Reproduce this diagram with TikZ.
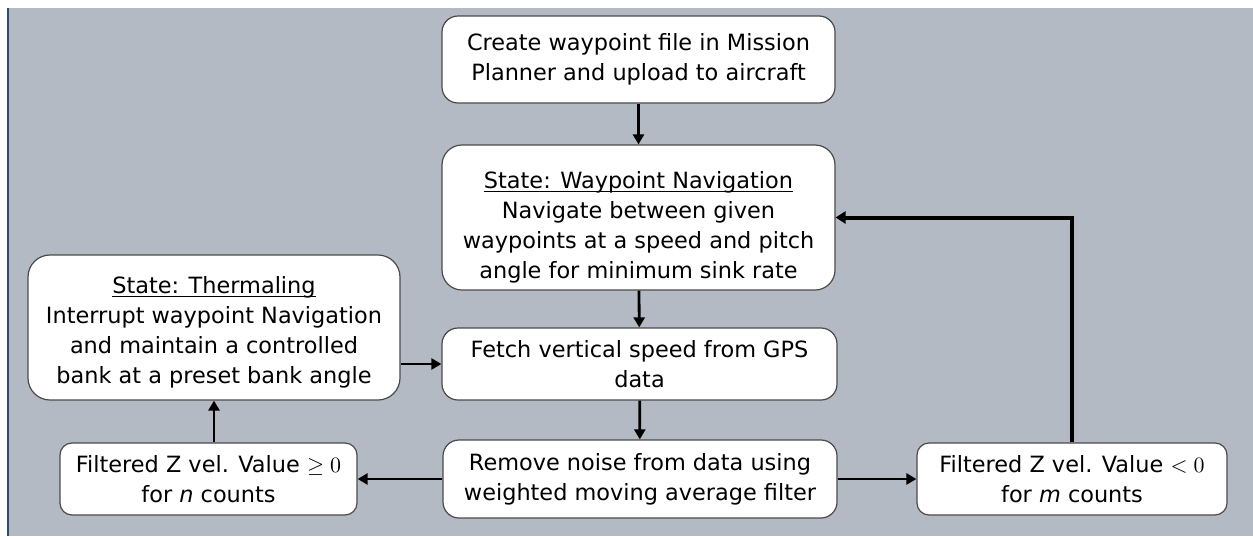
\documentclass[tikz,border=0pt]{standalone}
\usepackage{fontspec}
\setmainfont{DejaVu Sans}
\usetikzlibrary{arrows.meta}
\definecolor{panelGray}{HTML}{B3BAC4}
\definecolor{edgeBlue}{HTML}{2E4A78}
\definecolor{boxLine}{HTML}{4A4A4A}
%% Underlined state title, optional extra head room pushes the block down
\newcommand{\stateTitle}[2][0pt]{\underline{\raisebox{0pt}[\dimexpr\height+#1\relax][0pt]{#2}}}
\tikzset{
  stateBox/.style={draw=boxLine, line width=0.6pt, fill=white, rounded corners=8pt,
    align=center, inner sep=0pt, font=\fontsize{11.2}{15}\selectfont},
  flowArrow/.style={line width=1.4pt, -{Triangle[length=5pt,width=5.5pt]}},
  loopArrow/.style={line width=2pt, -{Triangle[length=5pt,width=6pt]}}
}
\begin{document}
\begin{tikzpicture}[x=0.5pt,y=-0.5pt]
  %% Canvas in pixel units
  \useasboundingbox (0,0) rectangle (1253,536);
  \fill[panelGray] (8,8) rectangle (1253,536);
  \draw[edgeBlue, line width=0.8pt] (8,8) -- (8,536);
  %% Centre column
  \node[stateBox, minimum width=196.5pt, minimum height=43.5pt] (create) at (638.5,59.5)
    {Create waypoint file in Mission\\Planner and upload to aircraft};
  \node[stateBox, minimum width=196.5pt, minimum height=72.5pt, rounded corners=10pt] (wpNav) at (638.5,217.5)
    {\stateTitle[10pt]{State: Waypoint Navigation}\\Navigate between given\\waypoints at a speed and pitch\\angle for minimum sink rate};
  \node[stateBox, minimum width=197.5pt, minimum height=36pt] (fetch) at (639.5,364)
    {Fetch vertical speed from GPS\\data};
  \node[stateBox, minimum width=197pt, minimum height=39pt] (remove) at (640,479)
    {Remove noise from data using\\weighted moving average filter};
  %% Side blocks
  \node[stateBox, minimum width=186pt, minimum height=72.5pt, rounded corners=11pt] (thermal) at (214,327.5)
    {\stateTitle[5pt]{State: Thermaling}\\Interrupt waypoint Navigation\\and maintain a controlled\\bank at a preset bank angle};
  \node[stateBox, minimum width=148.5pt, minimum height=36pt, rounded corners=6pt] (climbing) at (208.5,479)
    {Filtered Z vel. Value $\geq 0$\\for \textit{n} counts};
  \node[stateBox, minimum width=155pt, minimum height=36pt, rounded corners=6pt] (sinking) at (1072,479)
    {Filtered Z vel. Value $< 0$\\for \textit{m} counts};
  %% Connectors
  \draw[flowArrow] (create) -- (wpNav);
  \draw[flowArrow] (wpNav) -- (fetch);
  \draw[flowArrow] (fetch) -- (remove);
  \draw[flowArrow] (remove) -- (climbing);
  \draw[flowArrow] (remove) -- (sinking);
  \draw[flowArrow] (climbing.north -| thermal.south) -- (thermal.south);
  \draw[flowArrow] (thermal.east |- fetch.west) -- (fetch.west);
  \draw[loopArrow] (sinking.north) |- (wpNav.east);
\end{tikzpicture}
\end{document}
